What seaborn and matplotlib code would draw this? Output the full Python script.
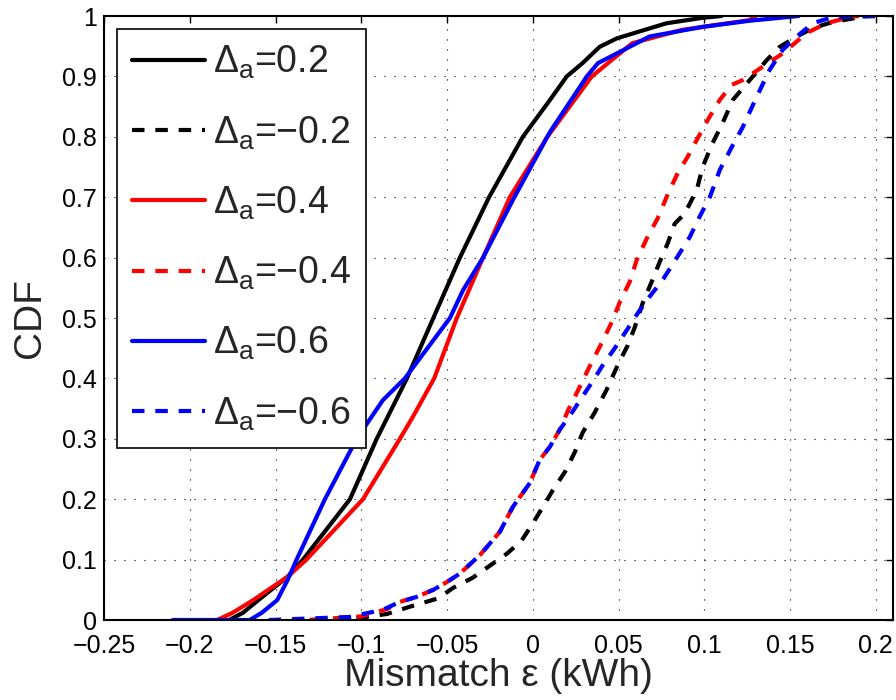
import pandas as pd
import seaborn as sns
import matplotlib
matplotlib.use('Agg')
import matplotlib.pyplot as plt

# CDF curves (x = mismatch in kWh, y = CDF)
x_p02 = [-0.177, -0.169, -0.160, -0.1428, -0.134, -0.1066, -0.091, -0.0734, -0.058, -0.0425,
         -0.0255, -0.0058, 0.010, 0.0198, 0.029, 0.039, 0.049, 0.078, 0.099, 0.11]
y_p02 = [0.0, 0.012, 0.033, 0.072, 0.1, 0.2, 0.3, 0.4, 0.5, 0.6,
         0.7, 0.8, 0.861, 0.9, 0.922, 0.949, 0.963, 0.988, 0.997, 1.0]

x_m02 = [-0.13, -0.1, -0.085, -0.0717, -0.055, -0.0466, -0.035, -0.025, -0.015, -0.0064,
         0.0, 0.0058, 0.0117, 0.0187, 0.0245, 0.029, 0.036, 0.043, 0.0495, 0.0554,
         0.0595, 0.0641, 0.0693, 0.074, 0.0787, 0.0827, 0.0886, 0.0956, 0.099, 0.1049,
         0.1107, 0.1166, 0.1265, 0.1364, 0.144, 0.1539, 0.1632, 0.1748, 0.1888, 0.195]
y_m02 = [0.0, 0.004, 0.01, 0.022, 0.036, 0.053, 0.07, 0.09, 0.11, 0.132,
         0.16, 0.187, 0.215, 0.245, 0.278, 0.31, 0.343, 0.381, 0.422, 0.455,
         0.485, 0.525, 0.56, 0.593, 0.624, 0.656, 0.673, 0.712, 0.75, 0.79,
         0.823, 0.861, 0.894, 0.927, 0.949, 0.966, 0.98, 0.99, 0.997, 1.0]

x_p04 = [-0.184, -0.175, -0.163, -0.1428, -0.132, -0.099, -0.0775, -0.07, -0.0575, -0.0443,
         -0.029, -0.0134, 0.0085, 0.0344, 0.058, 0.087, 0.126, 0.13]
y_p04 = [0.0, 0.012, 0.033, 0.072, 0.1, 0.2, 0.3, 0.336, 0.4, 0.5,
         0.6, 0.7, 0.8, 0.9, 0.955, 0.977, 0.993, 1.0]

x_m04 = [-0.13, -0.1, -0.085, -0.0775, -0.068, -0.058, -0.05, -0.0425, -0.031, -0.0192,
         -0.0117, -0.0017, 0.004, 0.01, 0.0157, 0.0207, 0.0265, 0.0335, 0.0404, 0.046,
         0.0507, 0.0565, 0.0606, 0.0665, 0.0728, 0.0787, 0.0845, 0.0903, 0.0962, 0.102,
         0.109, 0.116, 0.1224, 0.134, 0.1457, 0.1527, 0.1597, 0.1713, 0.1847, 0.19]
y_m04 = [0.0, 0.006, 0.018, 0.03, 0.038, 0.05, 0.063, 0.077, 0.107, 0.146,
         0.187, 0.227, 0.265, 0.287, 0.315, 0.348, 0.381, 0.422, 0.46, 0.493,
         0.526, 0.56, 0.596, 0.632, 0.665, 0.705, 0.74, 0.767, 0.798, 0.828,
         0.861, 0.886, 0.894, 0.916, 0.938, 0.955, 0.972, 0.988, 0.998, 1.0]

x_p06 = [-0.21, -0.165, -0.158, -0.149, -0.143, -0.1377, -0.1212, -0.1027, -0.0874, -0.0746,
         -0.0483, -0.0407, -0.029, -0.0117, 0.01, 0.0315, 0.038, 0.049, 0.068, 0.099,
         0.126, 0.155]
y_p06 = [0.0, 0.0, 0.012, 0.033, 0.066, 0.1, 0.2, 0.3, 0.364, 0.4,
         0.5, 0.546, 0.6, 0.695, 0.808, 0.9, 0.922, 0.938, 0.966, 0.982,
         0.992, 1.0]

x_m06 = [-0.154, -0.107, -0.0874, -0.0775, -0.068, -0.058, -0.05, -0.0425, -0.031, -0.0192,
         -0.0117, -0.0017, 0.004, 0.01, 0.0157, 0.0227, 0.029, 0.036, 0.0408, 0.0478,
         0.0548, 0.0612, 0.068, 0.0757, 0.084, 0.0915, 0.0973, 0.1032, 0.109, 0.116,
         0.1224, 0.1305, 0.1381, 0.1457, 0.1539, 0.1632, 0.1748, 0.205]
y_m06 = [0.0, 0.005, 0.017, 0.03, 0.038, 0.05, 0.063, 0.077, 0.107, 0.146,
         0.187, 0.227, 0.265, 0.287, 0.315, 0.343, 0.37, 0.4, 0.422, 0.45,
         0.48, 0.508, 0.535, 0.563, 0.6, 0.634, 0.668, 0.7, 0.745, 0.783,
         0.816, 0.866, 0.911, 0.944, 0.966, 0.988, 0.998, 1.0]

labels = ['0.2', '\u22120.2', '0.4', '\u22120.4', '0.6', '\u22120.6']
colors = ['black', 'black', 'red', 'red', 'blue', 'blue']
styles = ['solid', 'dashed', 'solid', 'dashed', 'solid', 'dashed']
curves = [(x_p02, y_p02), (x_m02, y_m02), (x_p04, y_p04),
          (x_m04, y_m04), (x_p06, y_p06), (x_m06, y_m06)]

xticks = [-0.25, -0.2, -0.15, -0.1, -0.05, 0, 0.05, 0.1, 0.15, 0.2]
xticklabels = ['\u22120.25', '\u22120.2', '\u22120.15', '\u22120.1', '\u22120.05',
               '0', '0.05', '0.1', '0.15', '0.2']
yticks = [0, 0.1, 0.2, 0.3, 0.4, 0.5, 0.6, 0.7, 0.8, 0.9, 1]
yticklabels = ['0', '0.1', '0.2', '0.3', '0.4', '0.5', '0.6', '0.7', '0.8', '0.9', '1']

sns.set_style('white')
plt.rcParams['font.family'] = ['Liberation Sans', 'DejaVu Sans']
plt.rcParams['mathtext.fontset'] = 'custom'
plt.rcParams['mathtext.rm'] = 'Liberation Sans'
plt.rcParams['mathtext.it'] = 'Liberation Sans:italic'

fig = plt.figure(figsize=(8.96, 7), dpi=100)
ax = fig.add_axes([104 / 896, 80 / 700, 789 / 896, 604 / 700])

for (xs, ys), lab, c, st in zip(curves, labels, colors, styles):
    df = pd.DataFrame({'x': xs, 'y': ys})
    ls = '-' if st == 'solid' else (0, (3.0, 2.6))
    sns.lineplot(data=df, x='x', y='y', sort=False, estimator=None, color=c,
                 linestyle=ls, linewidth=3.0, label=r'$\Delta_\mathrm{a}$=' + lab, ax=ax)

ax.set_xlim(-0.25, 0.21)
ax.set_ylim(0, 1)
ax.set_xticks(xticks)
ax.set_xticklabels(xticklabels)
ax.set_yticks(yticks)
ax.set_yticklabels(yticklabels)
ax.tick_params(direction='in', length=5, width=1, top=True, right=True, labelsize=18, colors='black')
ax.tick_params(axis='x', pad=10)
ax.tick_params(axis='y', pad=5)
ax.grid(True, color='black', linestyle=(0, (1, 8)), linewidth=0.8)
for s in ax.spines.values():
    s.set_linewidth(1.5)
    s.set_color('black')

ax.set_xlabel('Mismatch \u03b5 (kWh)', fontsize=28, labelpad=0)
ax.set_ylabel('CDF', fontsize=28, labelpad=10)

leg = ax.legend(loc='upper left', bbox_to_anchor=(0.0165, 0.9785), borderaxespad=0,
                fontsize=27, handlelength=1.95, handletextpad=0.2, labelspacing=0.88,
                fancybox=False, framealpha=1, edgecolor='black', borderpad=0.4)
leg.get_frame().set_linewidth(1.2)

fig.savefig('out.png', dpi=100)
